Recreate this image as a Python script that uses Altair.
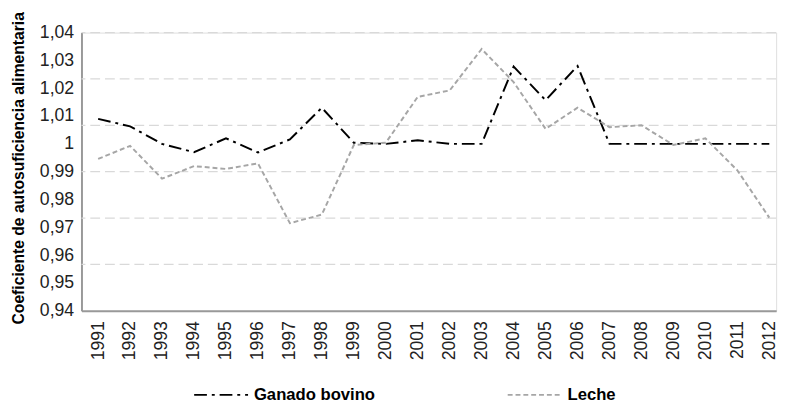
import altair as alt
import pandas as pd

years = [str(y) for y in range(1991, 2013)]
ganado = [1.009, 1.0063, 1.0, 0.997, 1.002, 0.9969, 1.0016, 1.013, 1.0004, 1.0,
          1.0013, 1.0, 1.0, 1.0278, 1.0157, 1.028, 1.0, 1.0, 1.0, 1.0, 1.0, 1.0]
leche = [0.9946, 0.9993, 0.9875, 0.992, 0.991, 0.993, 0.9715, 0.9746, 0.9996, 1.0004,
         1.0169, 1.0192, 1.0341, 1.0222, 1.0054, 1.013, 1.006, 1.0067, 0.9996, 1.002,
         0.9905, 0.9735]
series = ["Ganado bovino", "Leche"]
y_labels = [0.94, 0.95, 0.96, 0.97, 0.98, 0.99, 1.0, 1.01, 1.02, 1.03, 1.04]
grid_values = [0.956667, 0.973333, 0.99, 1.006667, 1.023333, 1.04]

df = pd.DataFrame({
    "year": years * 2,
    "value": ganado + leche,
    "serie": [series[0]] * len(years) + [series[1]] * len(years),
})
grid_df = pd.DataFrame({"value": grid_values})

W, H = 709, 284
FONT = "Liberation Sans"

yscale = alt.Scale(domain=[0.94, 1.04], nice=False, zero=False)
yaxis = alt.Axis(title="Coeficiente de autosuficiencia alimentaria",
                 values=y_labels, grid=False, ticks=False,
                 labelExpr="replace(format(datum.value, '.2~f'), '.', ',')",
                 labelFont=FONT, labelFontSize=18, labelColor="#222222",
                 labelPadding=8, domainColor="#999999", domainWidth=2,
                 titleFont=FONT, titleFontSize=16, titleFontWeight="bold",
                 titleColor="#000000", titlePadding=13, titleY=138)

legend = alt.Legend(title=None, orient="none", legendX=114, legendY=341,
                    direction="horizontal", symbolType="stroke",
                    symbolSize=3025, symbolStrokeWidth=2,
                    labelFont=FONT, labelFontSize=17, labelFontWeight="bold",
                    labelColor="#000000", labelOffset=5, columnPadding=131)

grid = alt.Chart(grid_df).mark_rule(
    color="#d9d9d9", strokeWidth=1.3, strokeDash=[10, 5]
).encode(y=alt.Y("value:Q", scale=yscale, axis=yaxis))

lines = alt.Chart(df).mark_line(strokeWidth=2).encode(
    x=alt.X("year:O", sort=years,
            scale=alt.Scale(type="point", padding=0.368, align=0.708),
            axis=alt.Axis(title=None, labelAngle=270, labelFont=FONT, labelFontSize=18,
                          labelColor="#222222", labelPadding=10, ticks=False,
                          domainColor="#999999", domainWidth=2, grid=False)),
    y=alt.Y("value:Q", scale=yscale, axis=yaxis),
    color=alt.Color("serie:N", scale=alt.Scale(domain=series, range=["#000000", "#a6a6a6"]),
                    legend=legend),
    strokeDash=alt.StrokeDash("serie:N", scale=alt.Scale(domain=series,
                                                         range=[[13, 5, 3, 5], [5, 3]]),
                              legend=legend),
)

chart = alt.layer(grid, lines).properties(
    width=W, height=H,
    autosize=alt.AutoSizeParams(type="none"),
    padding={"left": 75, "top": 21, "right": 8, "bottom": 92},
).configure_view(stroke=None).configure(background="white")

chart.save("out.html", embed_options={"renderer": "svg", "actions": False})
